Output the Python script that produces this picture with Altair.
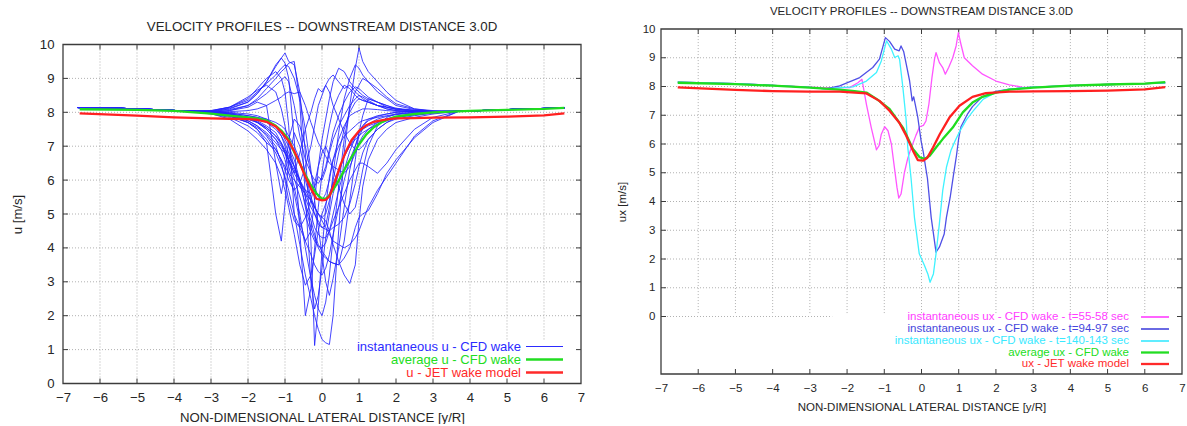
import altair as alt
import pandas as pd

FONT = "Liberation Sans"

# ---------------- LEFT PANEL DATA ----------------
X_CORE = [-3, -2.5, -2, -1.75, -1.5, -1.25, -1.1, -1, -0.9, -0.75, -0.6, -0.45, -0.3, -0.2, -0.1, 0,
          0.1, 0.2, 0.3, 0.45, 0.6, 0.75, 0.9, 1, 1.1, 1.25, 1.5, 1.75, 2, 2.5, 3]
X_TAIL_LEFT = [-6.6, -5.5, -4.5, -3.7]
U_TAIL_LEFT = [8.14, 8.12, 8.08, 8.04]
X_TAIL_RIGHT = [3.7, 4.5, 5.5, 6.55]
U_TAIL_RIGHT = [8.03, 8.06, 8.10, 8.13]

U_INST_01 = [8.02, 8.10, 8.30, 8.55, 8.90, 9.35, 9.60, 9.75, 9.50, 9.40, 8.60, 6.80, 4.20, 1.12, 2.30, 3.90, 5.20, 6.10, 6.60, 7.00, 7.30, 7.45, 7.60, 7.70, 7.75, 7.80, 7.85, 7.90, 7.95, 8.00, 8.02]
U_INST_02 = [8.00, 7.90, 7.70, 7.50, 7.20, 6.80, 6.40, 6.10, 5.70, 5.00, 4.10, 3.20, 2.50, 2.00, 1.60, 1.30, 1.20, 1.15, 2.00, 4.50, 6.80, 8.20, 9.30, 9.90, 9.50, 9.20, 8.90, 8.60, 8.35, 8.10, 8.05]
U_INST_03 = [8.00, 8.05, 8.20, 8.40, 8.70, 9.00, 9.20, 9.30, 9.45, 9.50, 8.30, 5.50, 3.00, 2.20, 2.60, 3.40, 4.30, 5.00, 5.60, 6.20, 6.70, 7.00, 7.30, 7.40, 7.50, 7.60, 7.70, 7.80, 7.85, 7.92, 7.98]
U_INST_04 = [7.98, 7.90, 7.70, 7.50, 7.10, 5.00, 4.20, 5.30, 6.60, 7.40, 7.00, 6.20, 5.50, 5.20, 5.00, 4.90, 5.00, 5.40, 6.00, 6.80, 7.50, 8.00, 8.30, 8.40, 8.35, 8.30, 8.20, 8.10, 8.05, 8.02, 8.00]
U_INST_05 = [7.95, 7.85, 7.60, 7.40, 7.10, 6.90, 6.60, 6.40, 6.20, 6.00, 5.80, 5.60, 5.40, 5.20, 5.00, 4.90, 4.80, 4.50, 4.10, 3.60, 3.20, 2.95, 3.50, 4.80, 5.80, 6.60, 7.20, 7.50, 7.70, 7.85, 7.95]
U_INST_06 = [8.00, 7.95, 7.80, 7.70, 7.50, 7.20, 7.00, 6.80, 6.60, 6.30, 6.00, 5.60, 5.20, 5.00, 4.80, 4.60, 4.55, 4.50, 4.60, 4.70, 4.90, 5.30, 5.90, 6.40, 6.80, 7.20, 7.50, 7.70, 7.80, 7.90, 7.98]
U_INST_07 = [8.02, 7.98, 7.90, 7.85, 7.75, 7.60, 7.40, 7.20, 7.00, 6.60, 6.00, 5.20, 4.60, 4.30, 4.00, 3.80, 3.70, 3.60, 3.55, 3.50, 3.70, 4.00, 4.60, 4.90, 5.00, 5.10, 5.60, 6.20, 6.60, 7.25, 7.70]
U_INST_08 = [8.05, 8.15, 8.35, 8.60, 8.85, 9.10, 9.30, 9.40, 9.35, 9.00, 8.40, 7.50, 6.30, 5.40, 4.60, 3.80, 3.00, 2.60, 3.10, 4.00, 5.20, 6.30, 7.00, 7.40, 7.60, 7.80, 7.90, 7.95, 8.00, 8.02, 8.02]
U_INST_09 = [8.00, 8.00, 7.95, 7.90, 7.80, 7.60, 7.30, 7.00, 6.60, 6.20, 6.80, 7.50, 8.00, 8.40, 8.70, 8.60, 8.80, 9.00, 9.10, 8.90, 8.70, 8.80, 8.60, 8.50, 8.40, 8.30, 8.20, 8.15, 8.10, 8.05, 8.02]
U_INST_10 = [8.00, 7.95, 7.85, 7.75, 7.60, 7.40, 7.10, 6.80, 6.40, 5.80, 5.00, 4.00, 3.10, 2.60, 2.20, 2.00, 2.40, 3.20, 4.30, 5.80, 7.20, 8.10, 8.60, 8.80, 9.00, 8.90, 8.70, 8.45, 8.25, 8.10, 8.03]
U_INST_11 = [7.98, 7.92, 7.75, 7.60, 7.40, 7.10, 6.90, 6.80, 6.60, 6.20, 5.90, 5.70, 5.60, 5.80, 6.10, 6.00, 6.30, 6.80, 7.20, 7.60, 7.90, 8.20, 8.40, 8.50, 8.45, 8.35, 8.20, 8.10, 8.05, 8.02, 8.00]
U_INST_12 = [8.05, 8.15, 8.40, 8.70, 9.00, 9.20, 9.00, 8.60, 7.60, 5.00, 4.60, 4.20, 3.80, 3.50, 3.30, 3.20, 3.40, 3.80, 4.40, 5.20, 6.00, 6.60, 7.00, 7.30, 7.50, 7.65, 7.80, 7.88, 7.93, 7.98, 8.00]
U_INST_13 = [7.97, 7.90, 7.80, 7.70, 7.55, 7.30, 7.10, 6.90, 6.70, 6.40, 6.00, 5.70, 5.40, 5.20, 5.00, 4.80, 4.60, 4.40, 4.20, 4.10, 4.00, 4.10, 4.30, 4.50, 4.80, 5.20, 5.70, 6.10, 6.50, 7.30, 7.75]
U_INST_14 = [8.03, 8.12, 8.30, 8.55, 8.90, 9.40, 9.60, 9.45, 9.00, 7.20, 4.50, 2.00, 2.80, 4.00, 5.20, 6.20, 7.00, 7.60, 8.10, 8.50, 8.80, 8.70, 8.50, 8.40, 8.35, 8.30, 8.20, 8.15, 8.10, 8.05, 8.02]
U_INST_15 = [8.00, 7.98, 7.90, 7.85, 7.80, 7.70, 7.60, 7.50, 7.30, 7.00, 6.60, 6.00, 5.40, 5.00, 4.70, 4.60, 4.65, 5.20, 6.20, 7.40, 8.40, 9.00, 9.40, 9.30, 9.10, 8.90, 8.60, 8.40, 8.20, 8.08, 8.03]
U_INST_16 = [8.00, 8.05, 8.15, 8.30, 8.20, 6.50, 5.60, 6.20, 7.20, 7.80, 7.60, 7.00, 6.20, 5.80, 5.50, 5.40, 5.60, 6.00, 6.60, 7.20, 7.60, 7.90, 8.00, 8.05, 8.10, 8.10, 8.08, 8.05, 8.03, 8.02, 8.00]
U_INST_17 = [7.98, 7.90, 7.75, 7.60, 7.30, 6.90, 6.60, 6.30, 6.00, 5.70, 5.90, 6.40, 7.00, 7.60, 8.20, 8.50, 8.80, 8.60, 8.20, 7.80, 7.40, 7.10, 6.90, 6.90, 7.00, 7.20, 7.50, 7.70, 7.85, 7.95, 8.00]
U_INST_18 = [8.00, 7.95, 7.85, 7.70, 7.50, 7.20, 6.90, 6.60, 6.20, 5.60, 4.80, 4.20, 4.50, 5.40, 6.40, 7.20, 7.80, 8.40, 8.90, 9.30, 9.20, 8.90, 8.70, 8.60, 8.50, 8.40, 8.30, 8.20, 8.12, 8.06, 8.02]
U_INST_19 = [7.96, 7.80, 7.45, 7.20, 6.90, 6.50, 6.10, 5.70, 5.20, 4.40, 3.50, 2.90, 3.20, 3.80, 4.50, 5.00, 5.30, 5.60, 5.90, 6.30, 6.70, 7.00, 7.20, 7.30, 7.40, 7.50, 7.65, 7.75, 7.85, 7.95, 8.00]
U_INST_20 = [8.00, 7.95, 7.85, 7.80, 7.70, 7.50, 7.30, 7.10, 6.80, 6.40, 6.00, 5.50, 5.00, 4.60, 4.40, 4.30, 4.30, 4.50, 4.80, 5.20, 5.60, 6.00, 6.30, 6.50, 6.50, 6.40, 6.20, 6.50, 6.90, 7.50, 7.85]
U_INST_21 = [8.01, 7.96, 7.85, 7.72, 7.55, 7.30, 7.05, 6.85, 6.55, 6.05, 5.50, 4.95, 4.45, 4.20, 4.05, 4.00, 4.15, 4.50, 5.00, 5.70, 6.30, 6.85, 7.25, 7.45, 7.60, 7.75, 7.88, 7.95, 8.00, 8.03, 8.03]
U_INST_22 = [8.03, 8.15, 8.45, 8.65, 8.80, 8.60, 8.10, 7.60, 7.00, 6.40, 5.90, 5.30, 4.80, 4.40, 4.10, 3.90, 3.75, 3.60, 3.55, 3.50, 4.20, 5.40, 6.60, 7.40, 7.90, 8.40, 8.30, 8.15, 8.08, 8.03, 8.02]
U_INST_23 = [8.00, 8.02, 8.05, 8.10, 8.20, 8.35, 8.45, 8.55, 8.60, 8.55, 8.60, 8.20, 7.70, 7.40, 7.10, 6.90, 6.70, 6.50, 6.40, 6.30, 6.20, 6.40, 6.80, 7.10, 7.30, 7.50, 7.70, 7.80, 7.88, 7.95, 8.00]
U_INST_24 = [7.97, 7.88, 7.70, 7.55, 7.35, 7.00, 6.50, 6.00, 5.40, 4.80, 4.60, 4.90, 5.40, 5.90, 6.40, 6.80, 7.00, 6.70, 6.30, 5.80, 5.30, 5.00, 5.20, 5.70, 6.30, 7.00, 7.60, 7.85, 7.95, 8.00, 8.02]
U_INST_25 = [8.02, 8.08, 8.20, 8.35, 8.55, 8.80, 8.95, 9.05, 8.90, 8.20, 7.30, 6.60, 6.20, 6.00, 5.90, 6.10, 6.40, 6.90, 7.40, 7.90, 8.30, 8.60, 8.75, 8.70, 8.60, 8.45, 8.30, 8.20, 8.10, 8.05, 8.02]

U_INST_LEFT = [U_INST_01, U_INST_02, U_INST_03, U_INST_04, U_INST_05, U_INST_06, U_INST_07,
               U_INST_08, U_INST_09, U_INST_10, U_INST_11, U_INST_12, U_INST_13, U_INST_14,
               U_INST_15, U_INST_16, U_INST_17, U_INST_18, U_INST_19, U_INST_20, U_INST_21,
               U_INST_22, U_INST_23, U_INST_24, U_INST_25]

X_MEAN_L = [-6.55, -5, -4, -3, -2.5, -2, -1.75, -1.5, -1.25, -1.1, -0.9, -0.75, -0.6, -0.45, -0.3, -0.15,
            0, 0.1, 0.2, 0.35, 0.5, 0.65, 0.8, 1.0, 1.2, 1.4, 1.6, 1.8, 2.0, 2.5, 3, 4, 5, 6, 6.55]
U_AVG_L = [8.09, 8.07, 8.04, 7.96, 7.90, 7.85, 7.82, 7.76, 7.60, 7.46, 7.20, 6.82, 6.50, 6.15, 5.85, 5.60,
           5.45, 5.45, 5.55, 5.80, 6.08, 6.40, 6.68, 7.05, 7.35, 7.56, 7.70, 7.80, 7.87, 7.95, 8.00, 8.04, 8.07, 8.10, 8.13]
U_JET_L = [7.97, 7.90, 7.85, 7.82, 7.81, 7.80, 7.78, 7.72, 7.58, 7.42, 7.15, 6.85, 6.50, 6.10, 5.75, 5.45,
           5.40, 5.42, 5.52, 5.95, 6.45, 6.85, 7.18, 7.45, 7.62, 7.72, 7.76, 7.80, 7.82, 7.83, 7.84, 7.85, 7.87, 7.91, 7.97]

# ---------------- RIGHT PANEL DATA ----------------
X_MAG = [-6.55, -5, -4, -3, -2.5, -2.2, -1.93, -1.71, -1.6, -1.48, -1.35, -1.21, -1.14, -1.08, -0.99, -0.9,
         -0.81, -0.72, -0.66, -0.61, -0.55, -0.46, -0.37, -0.28, -0.15, -0.05, 0.05, 0.12, 0.2, 0.28, 0.35,
         0.39, 0.48, 0.57, 0.64, 0.73, 0.84, 0.93, 0.99, 1.06, 1.15, 1.37, 1.64, 2.0, 2.36, 2.7, 3, 4, 5, 6, 6.55]
U_MAG = [8.15, 8.10, 8.04, 7.98, 7.95, 7.97, 7.96, 8.13, 8.25, 7.38, 6.57, 5.80, 5.94, 6.34, 6.60, 6.46,
         6.00, 5.10, 4.50, 4.12, 4.26, 5.00, 5.50, 5.85, 6.30, 6.60, 6.65, 6.80, 7.40, 8.30, 8.95,
         9.18, 8.83, 8.66, 8.43, 8.66, 9.00, 9.41, 9.87, 9.47, 9.00, 8.72, 8.43, 8.19, 8.06, 7.98, 7.97, 8.03, 8.07, 8.10, 8.13]

X_BLU = [-6.55, -5, -4, -3, -2.58, -2.2, -1.66, -1.31, -1.13, -0.97, -0.86, -0.72, -0.6, -0.55, -0.48, -0.41,
         -0.32, -0.25, -0.21, -0.16, -0.1, -0.01, 0.05, 0.11, 0.16, 0.26, 0.39, 0.48, 0.61, 0.67, 0.77, 0.85,
         0.94, 1.0, 1.06, 1.24, 1.37, 1.64, 2.0, 2.36, 3, 4, 5, 6, 6.55]
U_BLU = [8.15, 8.10, 8.04, 7.97, 7.92, 8.02, 8.31, 8.66, 8.95, 9.70, 9.57, 9.30, 9.24, 9.41, 9.22, 8.78,
         8.20, 7.50, 7.64, 7.33, 6.93, 6.10, 5.70, 5.20, 4.80, 3.45, 2.24, 2.41, 2.87, 3.45, 4.14, 4.84,
         5.60, 6.20, 6.60, 7.05, 7.30, 7.65, 7.83, 7.91, 7.98, 8.03, 8.07, 8.10, 8.13]

X_CYA = [-6.55, -5, -4, -3, -2.58, -2.2, -1.84, -1.48, -1.21, -1.08, -0.94, -0.81, -0.72, -0.63, -0.59, -0.5,
         -0.41, -0.37, -0.28, -0.19, -0.06, 0.08, 0.17, 0.23, 0.32, 0.39, 0.48, 0.57, 0.67, 0.79, 0.9, 1.03,
         1.21, 1.39, 1.66, 2.0, 2.36, 3, 4, 5, 6, 6.55]
U_CYA = [8.15, 8.10, 8.04, 7.97, 7.92, 7.96, 7.99, 8.19, 8.49, 8.89, 9.59, 9.30, 9.01, 9.07, 8.95, 7.96,
         6.81, 5.90, 4.80, 3.45, 2.18, 1.77, 1.48, 1.19, 1.48, 2.18, 3.22, 4.38, 5.19, 5.77, 6.10, 6.45,
         6.85, 7.15, 7.56, 7.79, 7.91, 7.98, 8.03, 8.07, 8.10, 8.13]

X_MEAN_R = [-6.55, -5, -4, -3, -2.5, -2.2, -1.8, -1.48, -1.2, -0.86, -0.5, -0.23, -0.05, 0.08, 0.22, 0.39,
            0.57, 0.84, 1.11, 1.37, 1.64, 2.0, 2.36, 3, 4, 5, 6, 6.55]
U_AVG_R = [8.13, 8.08, 8.03, 7.96, 7.92, 7.89, 7.84, 7.79, 7.56, 7.22, 6.57, 5.83, 5.54, 5.48, 5.59, 5.88,
           6.17, 6.57, 7.10, 7.44, 7.64, 7.79, 7.89, 7.96, 8.03, 8.07, 8.10, 8.15]
X_JET_R = [-6.55, -5, -4, -3, -2.2, -1.48, -1.13, -0.86, -0.6, -0.41, -0.23, -0.1, 0.04, 0.15, 0.31, 0.49,
           0.75, 1.02, 1.37, 1.73, 2.36, 3, 4, 5, 6, 6.55]
U_JET_R = [7.97, 7.88, 7.84, 7.82, 7.82, 7.76, 7.50, 7.16, 6.75, 6.29, 5.77, 5.44, 5.42, 5.51, 5.88, 6.34,
           6.92, 7.33, 7.64, 7.77, 7.82, 7.83, 7.84, 7.86, 7.90, 7.98]

TITLE = "VELOCITY PROFILES -- DOWNSTREAM DISTANCE 3.0D"
XTITLE = "NON-DIMENSIONAL LATERAL DISTANCE [y/R]"
LEG_L = ["instantaneous u - CFD wake", "average u - CFD wake", "u - JET wake model"]
LEG_R = ["instantaneous ux - CFD wake - t=55-58 sec", "instantaneous ux - CFD wake - t=94-97 sec",
         "instantaneous ux - CFD wake - t=140-143 sec", "average ux - CFD wake", "ux - JET wake model"]

C_BLUE_L = "#2424ff"
C_GREEN = "#1fdc1f"
C_RED = "#ff2020"
C_MAG = "#ff55ff"
C_BLU = "#4f4fe6"
C_CYA = "#3ff2ff"
GRIDC = "#a8a8a8"
FRAMEC = "#3c3c3c"
TEXTC = "#262626"

X_TICKS = list(range(-7, 8))


def seg_df(rows):
    return pd.DataFrame(rows, columns=["x", "x2", "y", "y2"])


def make_axes(fs, lab_pad_x, lab_pad_y, tpad_x, tpad_y, ytitle, ylabvals):
    xaxis = alt.Axis(values=X_TICKS, title=XTITLE, tickSize=0, domain=False, grid=False, ticks=False,
                     labelFont=FONT, labelFontSize=fs, labelColor=TEXTC, labelPadding=lab_pad_x,
                     titleFont=FONT, titleFontSize=fs, titleFontWeight="normal", titleColor=TEXTC,
                     titlePadding=tpad_x, labelFlush=False, labelOverlap=False)
    yaxis = alt.Axis(values=ylabvals, title=ytitle, tickSize=0, domain=False, grid=False, ticks=False,
                     labelFont=FONT, labelFontSize=fs, labelColor=TEXTC, labelPadding=lab_pad_y,
                     titleFont=FONT, titleFontSize=fs, titleFontWeight="normal", titleColor=TEXTC,
                     titlePadding=tpad_y, labelFlush=False, labelOverlap=False)
    return xaxis, yaxis


def frame_layers(W, top, bot, xs, ys, xa, ya, yticks, grid_rows):
    grid = alt.Chart(seg_df(grid_rows)).mark_rule(color=GRIDC, strokeWidth=0.9, strokeDash=[1, 2]).encode(
        x=alt.X("x:Q", scale=xs, axis=xa), x2="x2:Q",
        y=alt.Y("y:Q", scale=ys, axis=ya), y2="y2:Q")
    xt = pd.DataFrame({"x": X_TICKS[1:-1]})
    yt = pd.DataFrame({"y": yticks})
    tk = dict(color=FRAMEC, strokeWidth=1)
    L = 5
    t1 = alt.Chart(xt).mark_rule(**tk).encode(x=alt.X("x:Q", scale=xs, axis=xa), y=alt.value(bot), y2=alt.value(bot - L))
    t2 = alt.Chart(xt).mark_rule(**tk).encode(x=alt.X("x:Q", scale=xs, axis=xa), y=alt.value(top), y2=alt.value(top + L))
    t3 = alt.Chart(yt).mark_rule(**tk).encode(y=alt.Y("y:Q", scale=ys, axis=ya), x=alt.value(0), x2=alt.value(L))
    t4 = alt.Chart(yt).mark_rule(**tk).encode(y=alt.Y("y:Q", scale=ys, axis=ya), x=alt.value(W), x2=alt.value(W - L))
    fr = alt.Chart(pd.DataFrame({"f": [0]})).mark_rect(fillOpacity=0, stroke=FRAMEC, strokeWidth=1.3).encode(
        x=alt.value(0), x2=alt.value(W), y=alt.value(top), y2=alt.value(bot))
    return [grid, t1, t2, t3, t4, fr]


def curve(xv, uv, name, color, width, xs, ys, xa, ya, opacity=1.0):
    df = pd.DataFrame({"x": xv, "y": uv, "s": name})
    return alt.Chart(df).mark_line(color=color, strokeWidth=width, opacity=opacity, strokeJoin="round").encode(
        x=alt.X("x:Q", scale=xs, axis=xa), y=alt.Y("y:Q", scale=ys, axis=ya), detail="s:N")


def legend(labels, colors, widths, xr, x1, x2, rows, fs):
    out = []
    for lab, col, w, yy in zip(labels, colors, widths, rows):
        d = pd.DataFrame({"t": [lab]})
        out.append(alt.Chart(d).mark_text(align="right", baseline="middle", font=FONT, fontSize=fs, color=col).encode(
            text="t:N", x=alt.value(xr), y=alt.value(yy)))
        out.append(alt.Chart(d).mark_rule(color=col, strokeWidth=w).encode(
            x=alt.value(x1), x2=alt.value(x2), y=alt.value(yy)))
    return out


def text_at(txt, x, y, fs):
    d = pd.DataFrame({"t": [txt]})
    return alt.Chart(d).mark_text(align="center", baseline="middle", font=FONT, fontSize=fs,
                                  color=TEXTC).encode(text="t:N", x=alt.value(x), y=alt.value(y))


PAD_TOP = 5
ORIGIN = 28.5          # common top of both panel groups (page px)

# ---------------- LEFT PANEL (plot drawn lower inside its group) ----------------
WL = 518
TOP_L, BOT_L = 44 - ORIGIN, 383 - ORIGIN
xsL = alt.Scale(domain=[-7, 7], nice=False, zero=False)
ysL = alt.Scale(domain=[0, 10], nice=False, zero=False, range=[BOT_L, TOP_L])
xaL, yaL = make_axes(13.2, 8, 9, 8, 15, "u [m/s]", list(range(0, 11)))
grid_L = []
for v in range(-6, 7):
    grid_L.append([v, v, 1.3 if v >= 1 else 0, 10])
for v in range(1, 10):
    grid_L.append([-7, 0.72 if v == 1 else 7, v, v])

layers_L = frame_layers(WL, TOP_L, BOT_L, xsL, ysL, xaL, yaL, list(range(1, 10)), grid_L)
inst_x = X_TAIL_LEFT + X_CORE + X_TAIL_RIGHT
inst_rows_x, inst_rows_u, inst_rows_s = [], [], []
for i, u in enumerate(U_INST_LEFT):
    uu = U_TAIL_LEFT + u + U_TAIL_RIGHT
    inst_rows_x += inst_x
    inst_rows_u += uu
    inst_rows_s += ["c%02d" % i] * len(inst_x)
layers_L.append(curve(inst_rows_x, inst_rows_u, inst_rows_s, C_BLUE_L, 1.0, xsL, ysL, xaL, yaL, 0.85))
layers_L.append(curve(X_MEAN_L, U_AVG_L, "avg", C_GREEN, 2.3, xsL, ysL, xaL, yaL))
layers_L.append(curve(X_MEAN_L, U_JET_L, "jet", C_RED, 2.3, xsL, ysL, xaL, yaL))
layers_L += legend(LEG_L, ["#2c2cff", "#22dd22", "#ff2a2a"], [1.2, 2.3, 2.3], 458, 463, 500,
                   [TOP_L + 302, TOP_L + 315, TOP_L + 328], 13)
layers_L.append(text_at(TITLE, WL / 2, 26 - ORIGIN, 13.3))

left = alt.layer(*layers_L).properties(width=WL, height=BOT_L)

# ---------------- RIGHT PANEL ----------------
WR, HR = 521, 345
xsR = alt.Scale(domain=[-7, 7], nice=False, zero=False)
ysR = alt.Scale(domain=[-2, 10], nice=False, zero=False)
xaR, yaR = make_axes(11.5, 8, 6, 7.5, 15, "ux [m/s]", list(range(0, 11)))
grid_R = []
for v in range(-6, 7):
    grid_R.append([v, v, 0.12, 10])
for v in range(1, 10):
    grid_R.append([-7, 7, v, v])
grid_R.append([-7, -2.4, 0, 0])

layers_R = frame_layers(WR, 0, HR, xsR, ysR, xaR, yaR, list(range(0, 10)), grid_R)
layers_R.append(curve(X_MAG, U_MAG, "mag", C_MAG, 1.3, xsR, ysR, xaR, yaR))
layers_R.append(curve(X_BLU, U_BLU, "blu", C_BLU, 1.3, xsR, ysR, xaR, yaR))
layers_R.append(curve(X_CYA, U_CYA, "cya", C_CYA, 1.3, xsR, ysR, xaR, yaR))
layers_R.append(curve(X_MEAN_R, U_AVG_R, "avg", C_GREEN, 2.3, xsR, ysR, xaR, yaR))
layers_R.append(curve(X_JET_R, U_JET_R, "jet", C_RED, 2.3, xsR, ysR, xaR, yaR))
layers_R += legend(LEG_R, ["#ff3dff", "#4545dd", "#39e9ff", "#22dd22", "#ff2a2a"], [1.6, 1.6, 1.6, 2.3, 2.3],
                   468, 480, 508, [288, 300, 312, 323.5, 335], 11.5)
layers_R.append(text_at(TITLE, WR / 2, 11 - ORIGIN, 11.5))

right = alt.layer(*layers_R).properties(width=WR, height=HR)

chart = alt.hconcat(left, right, spacing=31).properties(
    padding={"left": 10, "top": PAD_TOP, "right": 0, "bottom": 0},
    background="white",
).configure_view(stroke="transparent", strokeWidth=0)

chart.save("out.html", embed_options={"renderer": "svg", "actions": False})
